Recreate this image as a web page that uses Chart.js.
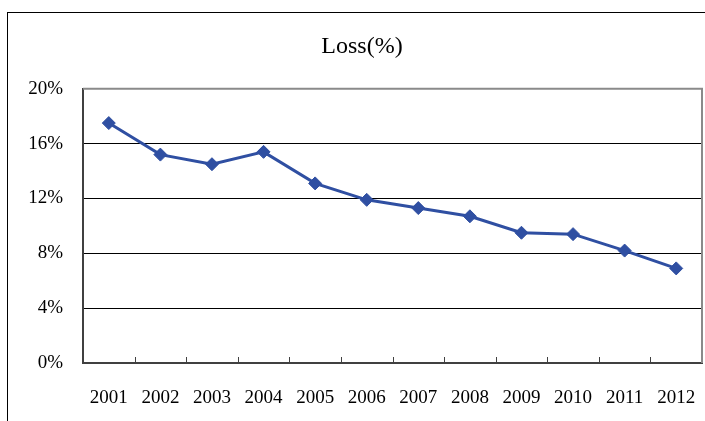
<!DOCTYPE html>
<html>
<head>
<meta charset="utf-8">
<script src="https://cdn.jsdelivr.net/npm/chart.js@4/dist/chart.umd.min.js"></script>
<style>
  html, body { margin: 0; padding: 0; background: #fff; }
  #wrap { width: 705px; height: 421px; }
</style>
</head>
<body>
<div id="wrap"><canvas id="c" width="705" height="421"></canvas></div>
<script>
// Annual loss rate, percent
const years = ['2001', '2002', '2003', '2004', '2005', '2006', '2007', '2008', '2009', '2010', '2011', '2012'];
const lossPct = [17.5, 15.2, 14.5, 15.4, 13.1, 11.9, 11.3, 10.7, 9.5, 9.4, 8.2, 6.9];
const yMin = 0;
const yMax = 20;
const yStep = 4;

const serif = "'Liberation Serif', 'Times New Roman', serif";
const lineBlue = '#2F4FA2';

// White page, outer chart frame, plot frame and inward category ticks
const framePlugin = {
  id: 'frame',
  beforeDraw(chart) {
    const ctx = chart.ctx;
    ctx.save();
    ctx.fillStyle = '#fff';
    ctx.fillRect(0, 0, chart.width, chart.height);
    ctx.strokeStyle = '#000';
    ctx.lineWidth = 1;
    ctx.strokeRect(7.5, 12.5, chart.width + 20, chart.height + 20);
    ctx.restore();
  },
  beforeDatasetsDraw(chart) {
    const { ctx, chartArea: a, scales: { x } } = chart;
    ctx.save();
    ctx.strokeStyle = '#8a8a8a';
    ctx.lineWidth = 2;
    ctx.beginPath();
    ctx.moveTo(a.left, a.top);
    ctx.lineTo(a.right, a.top);
    ctx.lineTo(a.right, a.bottom);
    ctx.stroke();
    ctx.strokeStyle = '#404040';
    ctx.lineWidth = 1;
    ctx.beginPath();
    for (let i = 1; i < years.length; i++) {
      const px = Math.round((x.getPixelForValue(i - 1) + x.getPixelForValue(i)) / 2) + 0.5;
      ctx.moveTo(px, a.bottom);
      ctx.lineTo(px, a.bottom - 6);
    }
    ctx.stroke();
    ctx.restore();
  }
};

new Chart(document.getElementById('c'), {
  type: 'line',
  data: {
    labels: years,
    datasets: [{
      data: lossPct,
      borderColor: lineBlue,
      backgroundColor: lineBlue,
      borderWidth: 3,
      pointStyle: 'rectRot',
      pointRadius: 6.5,
      pointBorderWidth: 1,
      pointBorderColor: lineBlue,
      pointBackgroundColor: lineBlue,
      tension: 0,
      fill: false
    }]
  },
  options: {
    responsive: false,
    animation: false,
    devicePixelRatio: 1,
    layout: { autoPadding: false, padding: { left: 22, right: 3, top: 0, bottom: 0 } },
    plugins: {
      legend: { display: false },
      tooltip: { enabled: false },
      title: {
        display: true,
        text: 'Loss(%)',
        color: '#000',
        font: { family: serif, size: 24, weight: 'normal' },
        padding: { top: 32, bottom: 28 }
      }
    },
    scales: {
      x: {
        type: 'category',
        offset: true,
        grid: { display: false },
        border: { display: true, color: '#404040', width: 2 },
        ticks: {
          color: '#000',
          padding: 16,
          maxRotation: 0,
          autoSkip: false,
          font: { family: serif, size: 19 }
        },
        afterFit(scale) {
          scale.height = 58;
          scale.paddingLeft = 0;
          scale.paddingRight = 0;
        }
      },
      y: {
        min: yMin,
        max: yMax,
        ticks: {
          stepSize: yStep,
          color: '#000',
          padding: 20,
          font: { family: serif, size: 19 },
          callback: (v) => v + '%'
        },
        grid: {
          drawTicks: false,
          color: (c) => (c.tick && c.tick.value === yMax) ? 'rgba(0,0,0,0)' : '#000',
          lineWidth: 1
        },
        border: { display: true, color: '#404040', width: 2 },
        afterFit(scale) {
          scale.width = 61;
          scale.paddingTop = 0;
          scale.paddingBottom = 0;
        }
      }
    }
  },
  plugins: [framePlugin]
});
</script>
</body>
</html>
